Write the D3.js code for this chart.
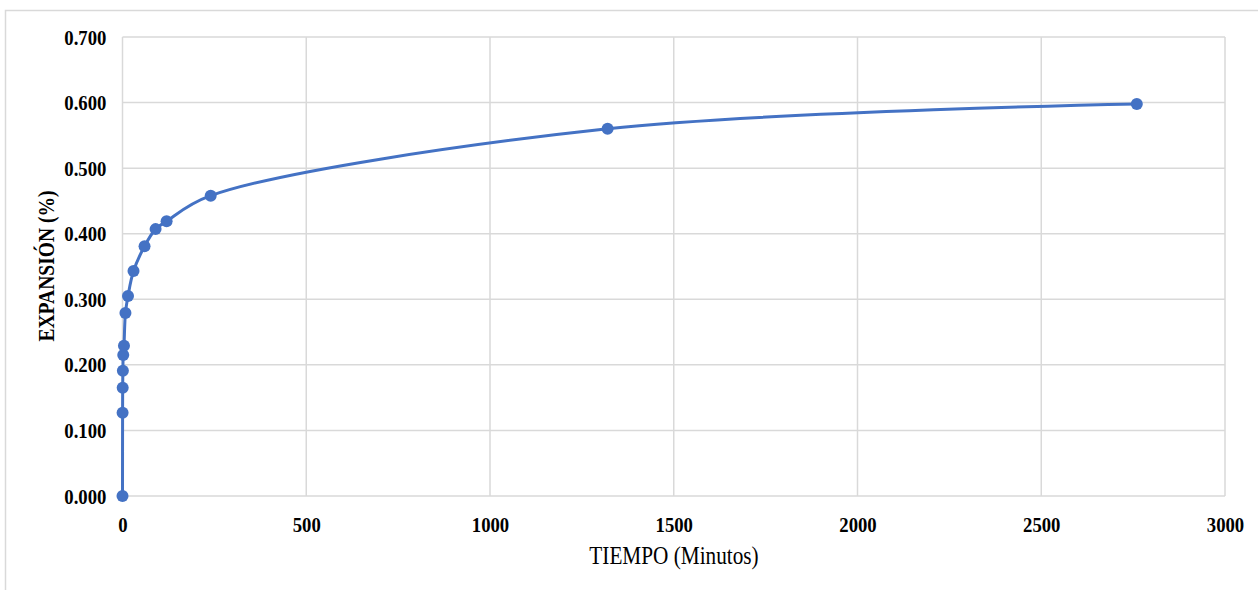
<!DOCTYPE html>
<html>
<head>
<meta charset="utf-8">
<script src="https://cdn.jsdelivr.net/npm/d3@7"></script>
<style>
  html, body { margin: 0; padding: 0; background: #fff; }
  svg { display: block; }
  text { font-family: "Liberation Serif", "Times New Roman", serif; fill: #000; }
</style>
</head>
<body>
<svg id="chart" width="1258" height="590"></svg>
<script>
// Data (time in minutes, expansion in %)
const tiempo    = [0, 0.25, 0.5, 1, 2, 4, 8, 15, 30, 60, 90, 120, 240, 1320, 2760];
const expansion = [0.000, 0.127, 0.165, 0.191, 0.215, 0.229, 0.279, 0.305, 0.343, 0.381, 0.407, 0.419, 0.458, 0.560, 0.598];
const xTicks = [0, 500, 1000, 1500, 2000, 2500, 3000];
const yTicks = [0, 0.1, 0.2, 0.3, 0.4, 0.5, 0.6, 0.7];
const xTitle = "TIEMPO (Minutos)";
const yTitle = "EXPANSIÓN (%)";

const svg = d3.select("#chart");
const W = 1258, H = 590;
const margin = { left: 122.5, right: W - 1225, top: 37, bottom: H - 496 };

// outer chart border
svg.append("rect")
  .attr("x", 5.5).attr("y", 10.5)
  .attr("width", 1262).attr("height", 600)
  .attr("fill", "#fff").attr("stroke", "#d9d9d9").attr("stroke-width", 1.5);

const x = d3.scaleLinear().domain([0, 3000]).range([margin.left, W - margin.right]);
const y = d3.scaleLinear().domain([0, 0.7]).range([H - margin.bottom, margin.top]);

const SX = 0.85;

// gridlines
const grid = svg.append("g");
grid.selectAll("line.h").data(yTicks).join("line")
  .attr("x1", x(0)).attr("x2", x(3000))
  .attr("y1", d => y(d)).attr("y2", d => y(d))
  .attr("stroke", "#d9d9d9").attr("stroke-width", 1.5);
grid.selectAll("line.v").data(xTicks).join("line")
  .attr("y1", y(0)).attr("y2", y(0.7))
  .attr("x1", d => x(d)).attr("x2", d => x(d))
  .attr("stroke", "#d9d9d9").attr("stroke-width", 1.5);

// axes (labels only)
const xAxis = svg.append("g")
  .attr("transform", `translate(0,${y(0)})`)
  .call(d3.axisBottom(x).tickValues(xTicks).tickSize(0).tickPadding(20).tickFormat(d3.format("d")));
xAxis.select(".domain").remove();
xAxis.selectAll("text")
  .attr("font-family", "Liberation Serif").attr("font-weight", "bold").attr("font-size", 22)
  .attr("fill", "#000")
  .attr("transform", `scale(${SX},1)`);

const yAxis = svg.append("g")
  .attr("transform", `translate(${x(0)},0)`)
  .call(d3.axisLeft(y).tickValues(yTicks).tickSize(0).tickPadding(19).tickFormat(d3.format(".3f")));
yAxis.select(".domain").remove();
yAxis.selectAll("text")
  .attr("font-family", "Liberation Serif").attr("font-weight", "bold").attr("font-size", 22)
  .attr("fill", "#000")
  .attr("transform", `scale(${SX},1)`);

// line
const pts = tiempo.map((t, i) => [t, expansion[i]]);
const line = d3.line()
  .x(d => x(d[0])).y(d => y(d[1]))
  .curve(d3.curveCatmullRom.alpha(0.5));
svg.append("path")
  .datum(pts)
  .attr("d", line)
  .attr("fill", "none")
  .attr("stroke", "#4472C4")
  .attr("stroke-width", 3)
  .attr("stroke-linejoin", "round");

svg.append("g").selectAll("circle").data(pts).join("circle")
  .attr("cx", d => x(d[0])).attr("cy", d => y(d[1]))
  .attr("r", 6)
  .attr("fill", "#4472C4");

// titles
svg.append("text")
  .attr("transform", `translate(674,564) scale(${SX},1)`)
  .attr("text-anchor", "middle")
  .attr("font-size", 25)
  .text(xTitle);

svg.append("text")
  .attr("transform", `translate(54,266) rotate(-90) scale(${SX},1)`)
  .attr("text-anchor", "middle")
  .attr("font-weight", "bold")
  .attr("font-size", 23)
  .text(yTitle);
</script>
</body>
</html>
